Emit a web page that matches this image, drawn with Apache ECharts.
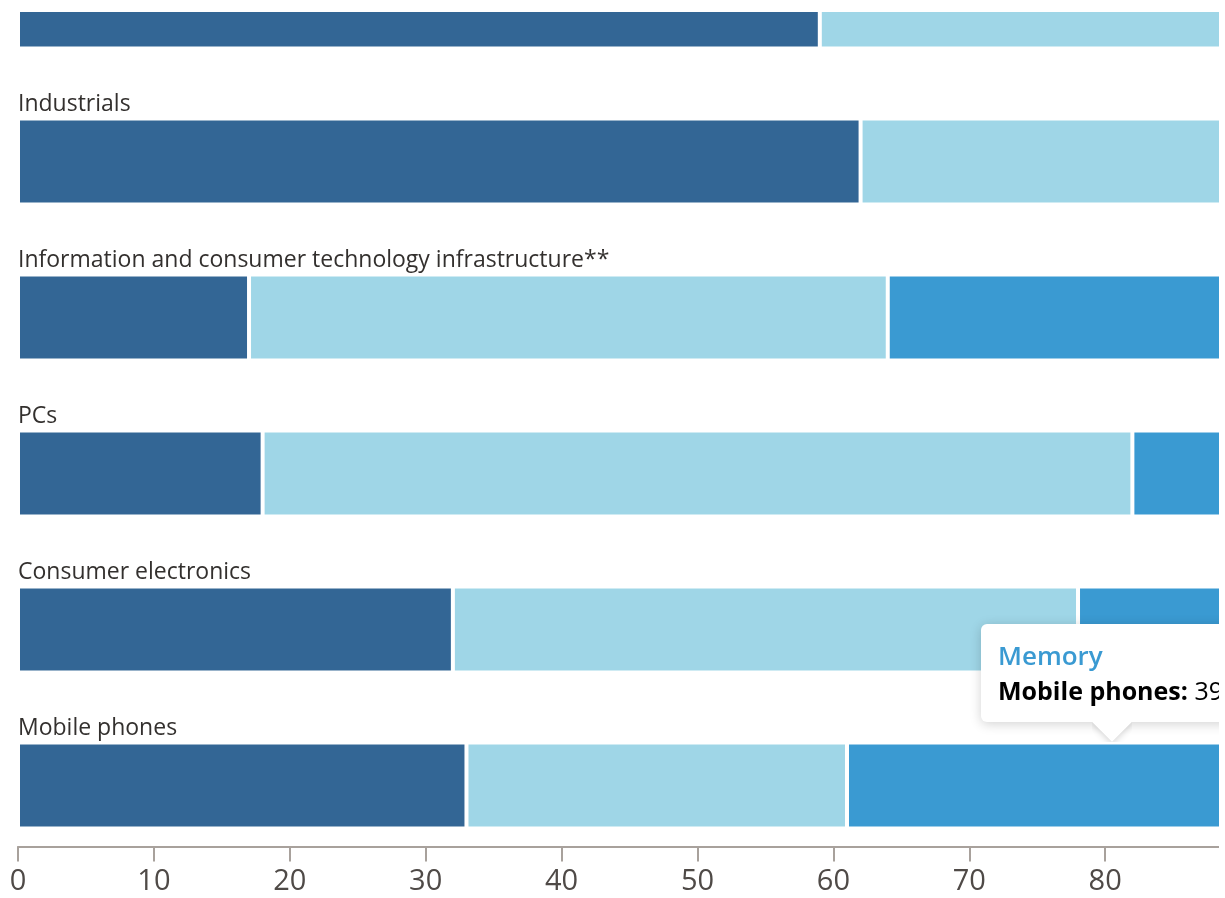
<!DOCTYPE html>
<html>
<head>
<meta charset="utf-8">
<script src="https://cdn.jsdelivr.net/npm/echarts@6/dist/echarts.min.js"></script>
<style>
  html, body { margin: 0; padding: 0; background: #fff; overflow: hidden; }
  #viewport { position: absolute; left: 0; top: 12px; width: 1219px; height: 886px; overflow: hidden; }
  #chart { position: absolute; left: 0; top: -112px; width: 1500px; height: 1000px; }
</style>
</head>
<body>
<div id="viewport"><div id="chart"></div></div>
<script>
// End markets, top to bottom
const categories = [
  'Automotive',
  'Industrials',
  'Information and consumer technology infrastructure**',
  'PCs',
  'Consumer electronics',
  'Mobile phones'
];
// Share of chip demand by type, per cent
const logic = [59, 62, 17, 18, 32, 33];
const analogue = [33, 31, 47, 64, 46, 28];
const memory = [8, 7, 36, 18, 22, 39];
const xTicks = [0, 10, 20, 30, 40, 50, 60, 70, 80, 90, 100];

const seriesNames = ['Logic', 'Analogue and other', 'Memory'];
const colors = ['#336695', '#9fd6e7', '#3a9ad2'];
const FONT = '"Open Sans", "Noto Sans", sans-serif';
const BAR_W = 86;
const BORDER = 2;
const focusIndex = 5;
// tooltip geometry: padding and where the pointer sits from the box's left edge
const TIP_PAD = 17;
const TIP_ARROW_X = 131;

const chart = echarts.init(document.getElementById('chart'), null, { renderer: 'canvas' });

function barSeries(name, data, color, withLabel) {
  return {
    name: name,
    type: 'bar',
    stack: 'share',
    data: data,
    barWidth: BAR_W,
    itemStyle: { color: color, borderColor: '#ffffff', borderWidth: BORDER },
    emphasis: { disabled: true },
    // category name written just above each bar
    label: withLabel ? {
      show: true,
      position: [0, -14],
      align: 'left',
      verticalAlign: 'middle',
      formatter: '{b}',
      color: '#33302e',
      fontFamily: FONT,
      fontSize: 23
    } : { show: false }
  };
}

const tipFormatter = function (p) {
  const arrowLeft = TIP_ARROW_X - TIP_PAD - 20;
  return '<div style="position:relative;font-family:' + FONT.replace(/"/g, "'") + ';line-height:35px;white-space:nowrap;">' +
    '<div style="color:' + p.color + ';font-weight:600;font-size:26px;">' + p.seriesName + '</div>' +
    '<div style="color:#000;font-size:25px;"><span style="font-weight:700;">' + p.name + ':</span> ' + p.value + '%</div>' +
    '<div style="position:absolute;left:' + arrowLeft + 'px;bottom:-34px;width:40px;height:20px;overflow:hidden;">' +
      '<div style="position:absolute;left:6px;top:-14px;width:28px;height:28px;background:#fff;transform:rotate(45deg);box-shadow:2px 2px 6px rgba(0,0,0,0.15);"></div>' +
    '</div>' +
  '</div>';
};

chart.setOption({
  animation: false,
  backgroundColor: '#ffffff',
  grid: { left: 18, right: 123, top: 27.5, bottom: 36.5, containLabel: false },
  xAxis: {
    type: 'value',
    min: xTicks[0],
    max: xTicks[xTicks.length - 1],
    interval: xTicks[1] - xTicks[0],
    offset: -17,
    axisLine: { show: true, lineStyle: { color: '#a8a19c', width: 2 } },
    axisTick: { show: true, length: 15, lineStyle: { color: '#a8a19c', width: 2 } },
    axisLabel: { color: '#4f4a47', fontFamily: FONT, fontSize: 29, margin: 21 },
    splitLine: { show: false }
  },
  yAxis: {
    type: 'category',
    data: categories,
    inverse: true,
    axisLine: { show: false },
    axisTick: { show: false },
    splitLine: { show: false },
    axisLabel: { show: false }
  },
  tooltip: {
    trigger: 'item',
    triggerOn: 'none',
    alwaysShowContent: true,
    transitionDuration: 0,
    backgroundColor: '#ffffff',
    borderWidth: 0,
    padding: [14, TIP_PAD, 14, TIP_PAD],
    extraCssText: 'box-shadow:0 2px 12px rgba(0,0,0,0.18);border-radius:6px;',
    formatter: tipFormatter,
    position: function (point, params, dom, rect, size) {
      const i = params.dataIndex;
      const start = logic[i] + analogue[i];
      const cx = chart.convertToPixel({ xAxisIndex: 0 }, start + memory[i] / 2);
      const cy = chart.convertToPixel({ yAxisIndex: 0 }, categories[i]);
      const barTop = cy - (BAR_W - BORDER) / 2;
      return [cx - TIP_ARROW_X, barTop - 22 - size.contentSize[1]];
    }
  },
  series: [
    barSeries(seriesNames[0], logic, colors[0], true),
    barSeries(seriesNames[1], analogue, colors[1], false),
    barSeries(seriesNames[2], memory, colors[2], false)
  ]
});

function showFocusTip() {
  chart.dispatchAction({ type: 'showTip', seriesIndex: 2, dataIndex: focusIndex });
}
showFocusTip();
setTimeout(showFocusTip, 50);
</script>
</body>
</html>
